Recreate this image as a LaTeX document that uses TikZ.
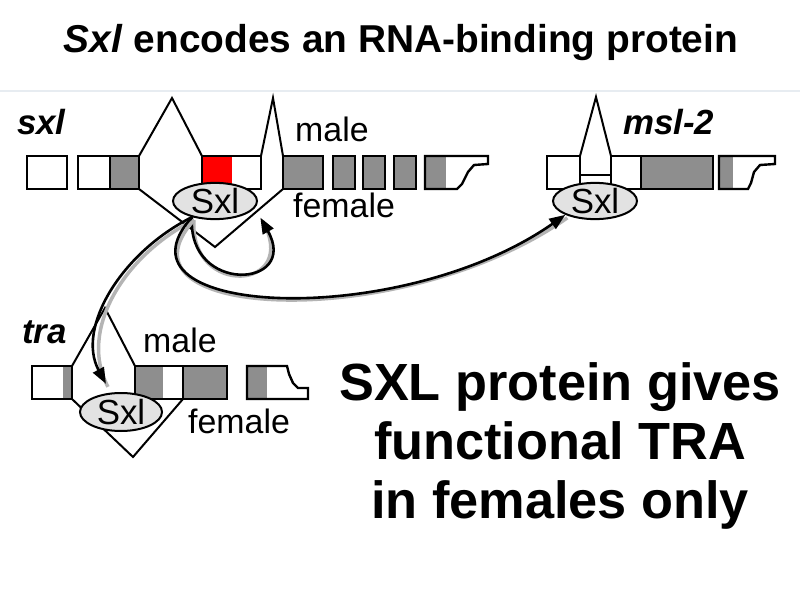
\documentclass[tikz,border=0pt]{standalone}
\usepackage{fontspec}
\setmainfont{Liberation Sans}
\usepackage{xcolor}
\usepackage{tikz}
\usetikzlibrary{shapes.geometric, arrows.meta}
\definecolor{exgray}{HTML}{8E8E8E}
\definecolor{protgray}{HTML}{E2E2E2}
\definecolor{sxlred}{HTML}{FF0000}
\definecolor{rulegray}{HTML}{E7ECF1}
\definecolor{shadowgray}{HTML}{B4B4B4}
\tikzstyle{exon} = [draw, line width=2.4bp, line join=miter]
\tikzstyle{splice} = [draw, line width=2bp, line join=miter]
\tikzstyle{protein} = [ellipse, draw, line width=2bp, fill=protgray, minimum width=84bp, minimum height=34bp, inner sep=0pt, font=\fontsize{35}{35}\selectfont]
\tikzstyle{genelabel} = [anchor=base west, inner sep=0pt, font=\fontsize{35}{35}\selectfont\bfseries\itshape]
\tikzstyle{sexlabel} = [anchor=base west, inner sep=0pt, font=\fontsize{34}{34}\selectfont]
\tikzstyle{regarrow} = [draw, line width=2.6bp, -{Triangle[length=16bp,width=12bp]}, preaction={draw=shadowgray, line width=3.5bp, -, transform canvas={shift={(2bp,-3bp)}}}]

\begin{document}
\begin{tikzpicture}[x=1bp, y=-1bp]

    \useasboundingbox[fill=white] (0,0) rectangle (800,600);
    \draw[rulegray, line width=2bp] (0,91) -- (800,91);
    \node[anchor=base, inner sep=0pt, font=\fontsize{39}{39}\selectfont\bfseries] at (401,53) (title) {\textit{Sxl} encodes an RNA-binding protein};

    \node[genelabel] at (17,135) (sxllabel) {sxl};
    \draw[exon] (27,156) rectangle (67,189);
    \fill[exgray] (110,156) rectangle (139,189);
    \draw[exon] (78,156) rectangle (110,189);
    \draw[exon] (110,156) rectangle (139,189);
    \fill[sxlred] (202,156) rectangle (232,189);
    \draw[exon] (202,156) rectangle (261,189);
    \draw[exon, fill=exgray] (283,156) rectangle (323,189);
    \foreach \x in {333, 363, 394}
        \draw[exon, fill=exgray] (\x,156) rectangle ++(22,33);
    \fill[exgray] (425,156) rectangle (446,189);
    \draw[exon] (425,156) -- (488,156) -- (488,164) -- (474,165) -- (468,172) -- (462,184) -- (457,189) -- (425,189) -- cycle;
    \draw[splice] (139,156) -- (172,98) -- (202,156);
    \draw[splice] (261,156) -- (273,98) -- (283,156);
    \draw[splice] (139,189) -- (215,247) -- (283,189);
    \node[protein] at (215,201) (sxlprot) {Sxl};
    \node[sexlabel] at (295,142) (sxlmale) {male};
    \node[sexlabel] at (293,218) (sxlfemale) {female};

    \node[genelabel] at (623,135) (msllabel) {msl-2};
    \draw[exon] (547,156) rectangle (580,189);
    \draw[exon] (580,175) rectangle (611,189);
    \draw[exon] (611,156) rectangle (641,189);
    \draw[exon, fill=exgray] (641,156) rectangle (713,189);
    \fill[exgray] (719,156) rectangle (733,189);
    \draw[exon] (719,156) -- (775,156) -- (775,164) -- (760,165) -- (754,172) -- (751,183) -- (748,189) -- (719,189) -- cycle;
    \draw[splice] (580,156) -- (596,97) -- (611,156);
    \node[protein] at (595,201) (mslprot) {Sxl};

    \node[genelabel] at (22,343) (tralabel) {tra};
    \fill[exgray] (63,366) rectangle (72,399);
    \draw[exon] (32,366) rectangle (72,399);
    \fill[exgray] (135,366) rectangle (163,399);
    \draw[exon] (135,366) rectangle (183,399);
    \draw[exon, fill=exgray] (183,366) rectangle (227,399);
    \fill[exgray] (247,366) rectangle (267,399);
    \draw[exon] (247,366) -- (287,366) -- (289,374) -- (293,383) -- (298,388) -- (308,388) -- (308,399) -- (247,399) -- cycle;
    \draw[splice] (72,366) -- (105,308) -- (135,366);
    \draw[splice] (72,399) -- (133,457) -- (183,399);
    \node[protein, minimum width=82bp, minimum height=38bp] at (121,412) (traprot) {Sxl};
    \node[sexlabel] at (143,352) (tramale) {male};
    \node[sexlabel] at (188,433) (trafemale) {female};

    \node[align=center, inner sep=0pt, font=\fontsize{52.5}{59}\selectfont\bfseries] at (560,446) (summary) {SXL protein gives\\functional TRA\\in females only};

    \path[regarrow, shorten >=10bp] (sxlprot.215) .. controls +(-70,35) and +(-35,-65) .. (traprot.118);
    \path[regarrow, shorten >=11bp] (sxlprot.215) .. controls +(-5,78) and +(45,80) .. (sxlprot.-10);
    \path[regarrow] (sxlprot.215) .. controls +(-90,100) and +(-166,116) .. (mslprot.205);

\end{tikzpicture}
\end{document}
